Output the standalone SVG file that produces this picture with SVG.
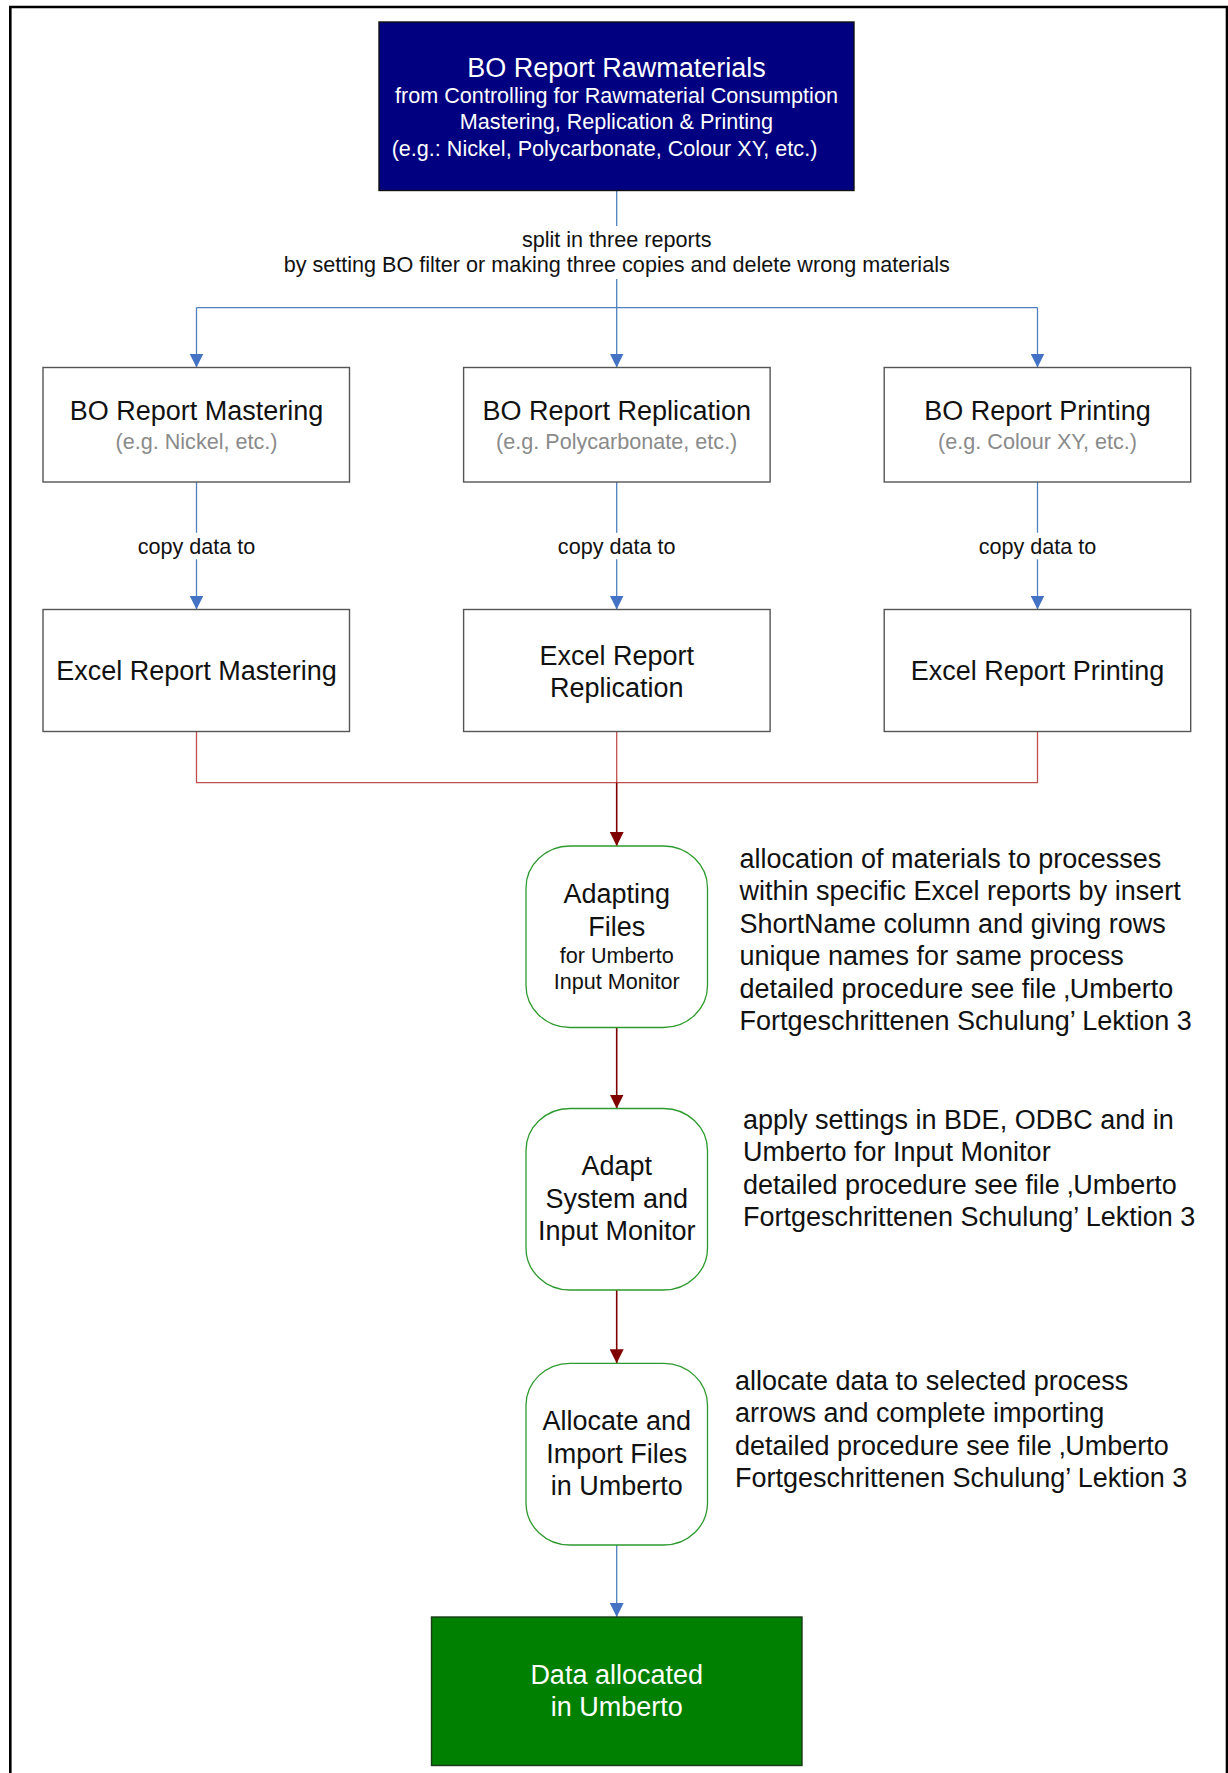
<svg xmlns="http://www.w3.org/2000/svg" width="1228" height="1773" viewBox="0 0 1228 1773">
<style>
text{font-family:"Liberation Sans",Arial,sans-serif;fill:#111}
.big{font-size:27px}
.sm{font-size:21.6px}
.mid{text-anchor:middle}
.wt{fill:#fff}
.gr{fill:#8a8a8a}
.box{fill:#fff;stroke:#555;stroke-width:1.4}
.rnd{fill:#fff;stroke:#2e9a2e;stroke-width:1.3}
.blue{fill:none;stroke:#4f81bd;stroke-width:1.3}
.lred{fill:none;stroke:#c0504d;stroke-width:1.3}
.dred{fill:none;stroke:#800000;stroke-width:1.6}
</style>
<defs>
<marker id="ab" markerUnits="userSpaceOnUse" markerWidth="14" markerHeight="14" refX="14" refY="7" orient="auto" viewBox="0 0 14 14"><path d="M0,0 L14,7 L0,14 z" fill="#4472c4"/></marker>
<marker id="ar" markerUnits="userSpaceOnUse" markerWidth="14" markerHeight="14" refX="14" refY="7" orient="auto" viewBox="0 0 14 14"><path d="M0,0 L14,7 L0,14 z" fill="#800000"/></marker>
</defs>
<rect x="0" y="0" width="1228" height="1773" fill="#fff"/>
<path d="M10.3,1773 V7 H1227 V1773" fill="none" stroke="#000" stroke-width="2.6"/>

<g id="connectors">
<path class="blue" d="M616.7,190.5 V226"/>
<path class="blue" d="M616.7,279 V307.6"/>
<path class="blue" d="M196.5,307.6 H1037.5"/>
<path class="blue" d="M196.5,307.6 V367.5" marker-end="url(#ab)"/>
<path class="blue" d="M616.7,307.6 V367.5" marker-end="url(#ab)"/>
<path class="blue" d="M1037.5,307.6 V367.5" marker-end="url(#ab)"/>
<text class="sm mid" x="616.7" y="246.5">split in three reports</text>
<text class="sm mid" x="616.7" y="271.5">by setting BO filter or making three copies and delete wrong materials</text>

<path class="blue" d="M196.5,482 V532.7"/>
<path class="blue" d="M196.5,559.3 V609.5" marker-end="url(#ab)"/>
<path class="blue" d="M616.7,482 V532.7"/>
<path class="blue" d="M616.7,559.3 V609.5" marker-end="url(#ab)"/>
<path class="blue" d="M1037.5,482 V532.7"/>
<path class="blue" d="M1037.5,559.3 V609.5" marker-end="url(#ab)"/>
<text class="sm mid" x="196.5" y="553.5">copy data to</text>
<text class="sm mid" x="616.7" y="553.5">copy data to</text>
<text class="sm mid" x="1037.5" y="553.5">copy data to</text>

<path class="lred" d="M196.5,731.6 V782.6 H1037.5 V731.6"/>
<path class="lred" d="M616.7,731.6 V782.6"/>
<path class="dred" d="M616.7,782.6 V846" marker-end="url(#ar)"/>
<path class="dred" d="M616.7,1027.5 V1108.5" marker-end="url(#ar)"/>
<path class="dred" d="M616.7,1290 V1363.3" marker-end="url(#ar)"/>
<path class="blue" d="M616.7,1545 V1617" marker-end="url(#ab)"/>
</g>

<g id="n-raw">
<rect x="379" y="22" width="475" height="168.5" fill="#000080" stroke="#111" stroke-width="1.4"/>
<text class="big mid wt" x="616.5" y="76.5">BO Report Rawmaterials</text>
<text class="sm mid wt" x="616.5" y="102.5">from Controlling for Rawmaterial Consumption</text>
<text class="sm mid wt" x="616.5" y="129">Mastering, Replication &amp; Printing</text>
<text class="sm mid wt" x="604.5" y="155.5">(e.g.: Nickel, Polycarbonate, Colour XY, etc.)</text>
</g>

<g id="n-bo-mastering">
<rect class="box" x="43" y="367.5" width="306.5" height="114.5"/>
<text class="big mid" x="196.5" y="420">BO Report Mastering</text>
<text class="sm mid gr" x="196.5" y="448.5">(e.g. Nickel, etc.)</text>
</g>
<g id="n-bo-replication">
<rect class="box" x="463.6" y="367.5" width="306.5" height="114.5"/>
<text class="big mid" x="616.7" y="420">BO Report Replication</text>
<text class="sm mid gr" x="616.7" y="448.5">(e.g. Polycarbonate, etc.)</text>
</g>
<g id="n-bo-printing">
<rect class="box" x="884.2" y="367.5" width="306.5" height="114.5"/>
<text class="big mid" x="1037.5" y="420">BO Report Printing</text>
<text class="sm mid gr" x="1037.5" y="448.5">(e.g. Colour XY, etc.)</text>
</g>

<g id="n-xl-mastering">
<rect class="box" x="43" y="609.5" width="306.5" height="122"/>
<text class="big mid" x="196.5" y="680">Excel Report Mastering</text>
</g>
<g id="n-xl-replication">
<rect class="box" x="463.6" y="609.5" width="306.5" height="122"/>
<text class="big mid" x="616.7" y="664.5">Excel Report</text>
<text class="big mid" x="616.7" y="696.5">Replication</text>
</g>
<g id="n-xl-printing">
<rect class="box" x="884.2" y="609.5" width="306.5" height="122"/>
<text class="big mid" x="1037.5" y="680">Excel Report Printing</text>
</g>

<g id="n-adapting">
<rect class="rnd" x="526" y="846" width="181.5" height="181.5" rx="44" ry="42"/>
<text class="big mid" x="616.7" y="903">Adapting</text>
<text class="big mid" x="616.7" y="935.5">Files</text>
<text class="sm mid" x="616.7" y="963">for Umberto</text>
<text class="sm mid" x="616.7" y="989">Input Monitor</text>
</g>
<g id="t-adapting">
<text class="big" x="739.5" y="868">allocation of materials to processes</text>
<text class="big" x="739.5" y="900.4">within specific Excel reports by insert</text>
<text class="big" x="739.5" y="932.8">ShortName column and giving rows</text>
<text class="big" x="739.5" y="965.2">unique names for same process</text>
<text class="big" x="739.5" y="997.6">detailed procedure see file ‚Umberto</text>
<text class="big" x="739.5" y="1030">Fortgeschrittenen Schulung’ Lektion 3</text>
</g>

<g id="n-adapt-system">
<rect class="rnd" x="526" y="1108.5" width="181.5" height="181.5" rx="44" ry="42"/>
<text class="big mid" x="616.7" y="1175">Adapt</text>
<text class="big mid" x="616.7" y="1207.5">System and</text>
<text class="big mid" x="616.7" y="1240">Input Monitor</text>
</g>
<g id="t-adapt-system">
<text class="big" x="743" y="1129">apply settings in BDE, ODBC and in</text>
<text class="big" x="743" y="1161.4">Umberto for Input Monitor</text>
<text class="big" x="743" y="1193.8">detailed procedure see file ‚Umberto</text>
<text class="big" x="743" y="1226.2">Fortgeschrittenen Schulung’ Lektion 3</text>
</g>

<g id="n-allocate">
<rect class="rnd" x="526" y="1363.3" width="181.5" height="181.7" rx="44" ry="42"/>
<text class="big mid" x="616.7" y="1430">Allocate and</text>
<text class="big mid" x="616.7" y="1463">Import Files</text>
<text class="big mid" x="616.7" y="1495">in Umberto</text>
</g>
<g id="t-allocate">
<text class="big" x="735" y="1390">allocate data to selected process</text>
<text class="big" x="735" y="1422.4">arrows and complete importing</text>
<text class="big" x="735" y="1454.8">detailed procedure see file ‚Umberto</text>
<text class="big" x="735" y="1487.2">Fortgeschrittenen Schulung’ Lektion 3</text>
</g>

<g id="n-done">
<rect x="431.5" y="1617" width="370.5" height="148.5" fill="#008000" stroke="#1a3a1a" stroke-width="1.4"/>
<text class="big mid wt" x="616.7" y="1684">Data allocated</text>
<text class="big mid wt" x="616.7" y="1716">in Umberto</text>
</g>
</svg>
